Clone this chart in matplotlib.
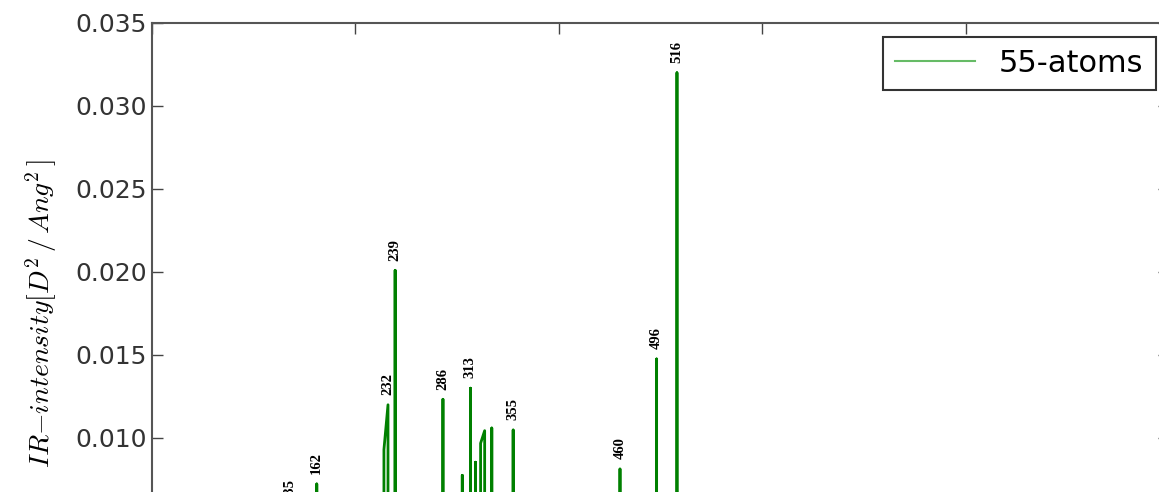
import matplotlib
matplotlib.use("Agg")
import matplotlib.pyplot as plt

plt.rcParams.update({
    "mathtext.fontset": "cm",
    "font.family": "DejaVu Sans",
    "xtick.direction": "in",
    "ytick.direction": "in",
    "xtick.top": True,
    "ytick.right": True,
})

# Vibrational modes of the 55-atom cluster: frequency and IR intensity.
FREQ = [135, 162, 228, 232, 239, 286, 305, 313, 318, 323, 327, 334, 355, 460, 496, 516]
INTENSITY = [0.0057, 0.00723, 0.0093, 0.0120, 0.0201, 0.01233, 0.00775, 0.0130,
             0.00854, 0.00968, 0.01044, 0.0106, 0.01048, 0.00813, 0.01476, 0.0320]
# Modes that join straight onto the previous stick without returning to zero.
JOINED = [232, 327]
# Modes that carry a frequency label above the stick.
LABELLED = [135, 162, 232, 239, 286, 313, 355, 460, 496, 516]

YTICKS = [0.010, 0.015, 0.020, 0.025, 0.030, 0.035]
XTICKS = [0, 200, 400, 600, 800, 1000]

# Build the stick spectrum as a single polyline.
xs, ys = [], []
for f, inten in zip(FREQ, INTENSITY):
    if f in JOINED and xs:
        xs.pop()
        ys.pop()
        xs += [f, f]
        ys += [inten, 0.0]
    else:
        xs += [f, f, f]
        ys += [0.0, inten, 0.0]

fig = plt.figure(figsize=(11.59, 4.92), dpi=100)
ax = fig.add_axes([0.1311, -0.2276, 0.8779, 1.1809])

ax.plot(xs, ys, color="green", linewidth=2.0, label="55-atoms")

for f, inten in zip(FREQ, INTENSITY):
    if f in LABELLED:
        ax.annotate(str(f), xy=(f, inten), xytext=(0, 7), textcoords="offset points",
                    rotation=90, ha="center", va="bottom",
                    family="Liberation Serif", fontweight="bold", fontsize=10.5)

ax.set_xlim(0, 1000)
ax.set_ylim(0, 0.035)
ax.set_xticks(XTICKS)
ax.set_yticks(YTICKS)
ax.set_yticklabels([f"{v:.3f}" for v in YTICKS])
ax.tick_params(axis="both", length=8, width=1, color="#444444", labelsize=18,
               labelcolor="#333333")
# The frequency axis runs below the visible area, so its labels are left off.
ax.tick_params(axis="x", labelbottom=False)
for sp in ax.spines.values():
    sp.set_color("#555555")
    sp.set_linewidth(1.5)

ax.set_ylabel(r"$IR\mathrm{-}intensity[D^2\,/\,Ang^2\,]$", fontsize=20, labelpad=12)

leg = ax.legend(loc="upper right", fontsize=22, fancybox=False, framealpha=1,
                edgecolor="#333333", handlelength=2.6, borderaxespad=0.45)
leg.get_frame().set_linewidth(1.5)
for line in leg.get_lines():
    line.set_color("#66bb66")
    line.set_linewidth(1.5)

fig.savefig("out.png", dpi=100)
